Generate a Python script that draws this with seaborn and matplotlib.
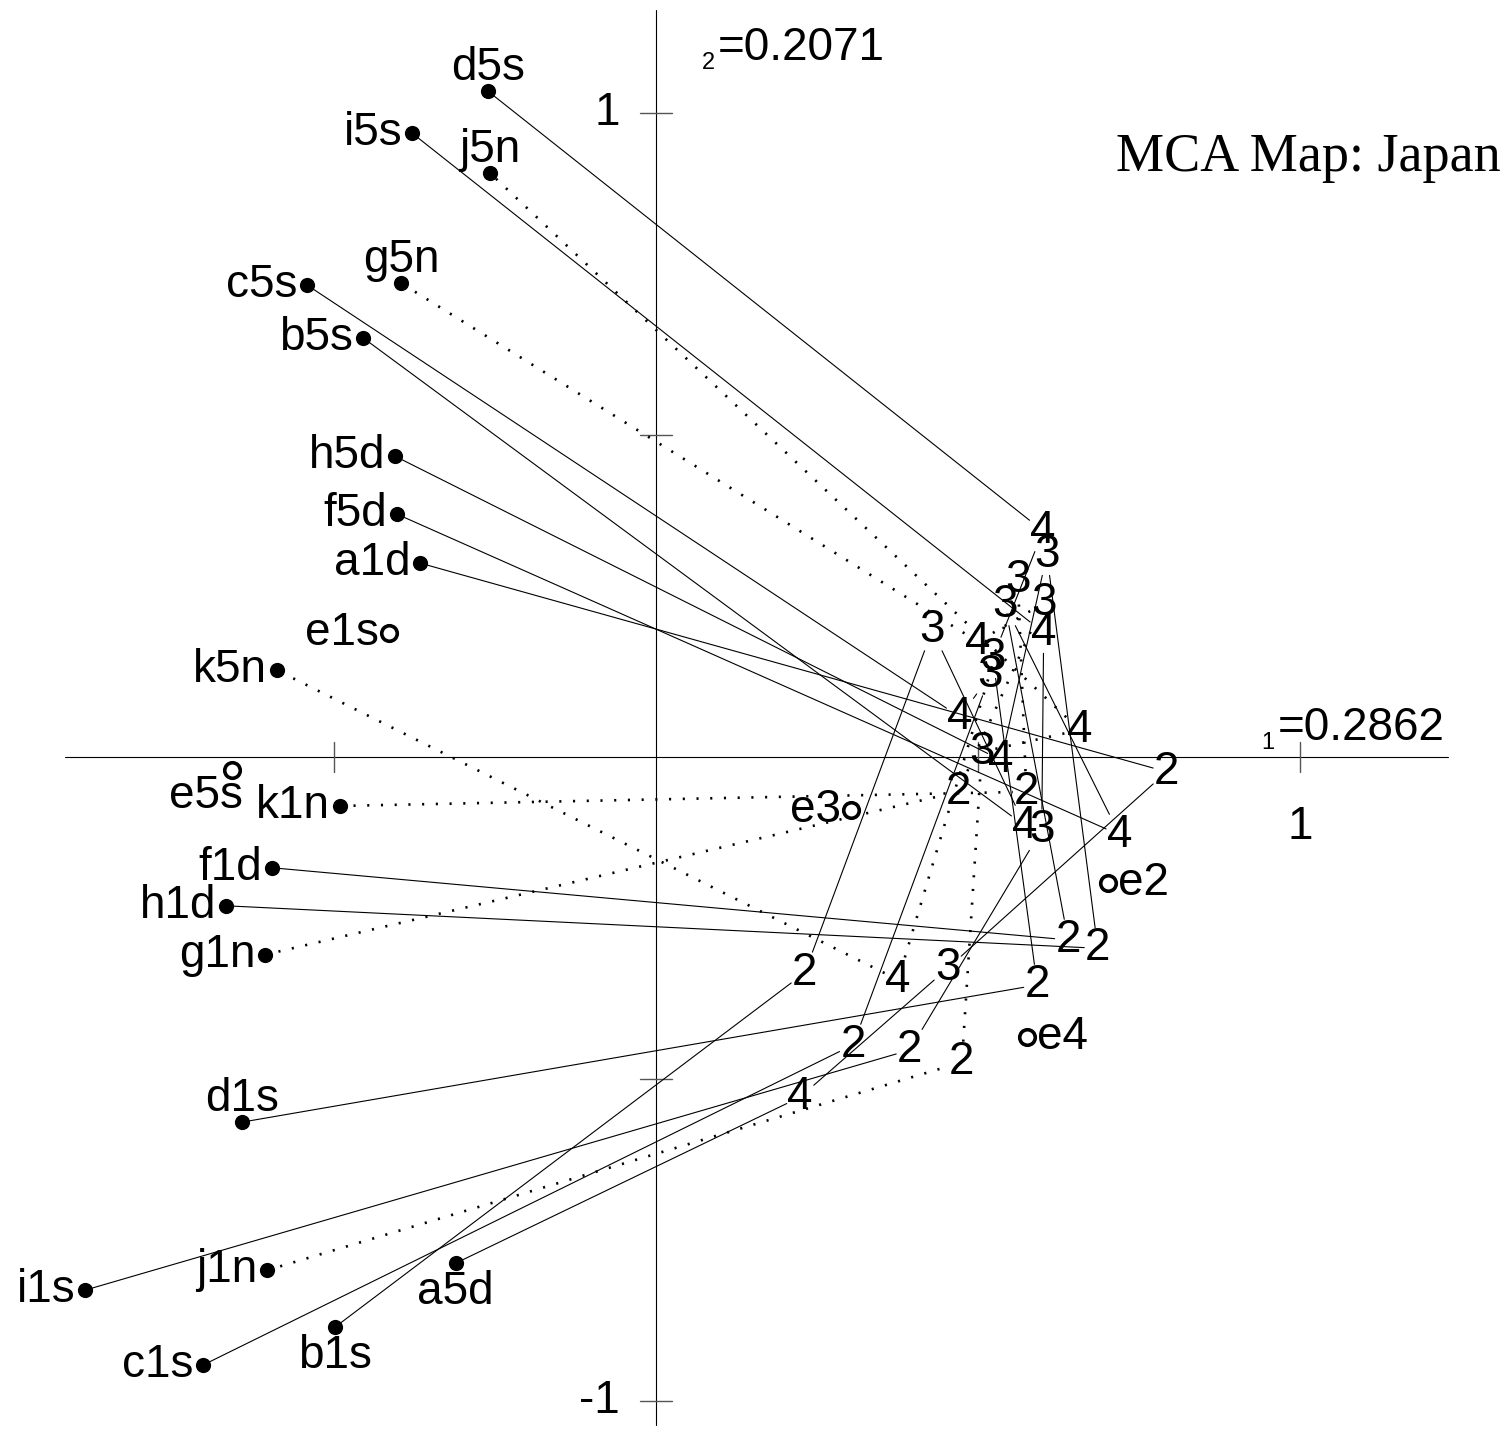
import matplotlib
matplotlib.use("Agg")
import matplotlib.pyplot as plt
import numpy as np
import pandas as pd
import seaborn as sns

# Principal coordinates (axis 1, axis 2) of response categories 1..5 per question
a_x = [-0.366, 0.793, 0.453, 0.224, -0.311]
a_y = [0.301, -0.023, -0.328, -0.528, -0.786]
b_x = [-0.498, 0.231, 0.429, 0.573, -0.455]
b_y = [-0.885, -0.335, 0.197, -0.107, 0.651]
c_x = [-0.703, 0.306, 0.519, 0.472, -0.542]
c_y = [-0.944, -0.447, 0.127, 0.062, 0.733]
d_x = [-0.643, 0.592, 0.523, 0.601, -0.261]
d_y = [-0.567, -0.354, 0.154, 0.351, 1.034]
f_x = [-0.596, 0.640, 0.542, 0.720, -0.402]
f_y = [-0.172, -0.284, 0.236, -0.121, 0.377]
g_x = [-0.607, 0.469, 0.602, 0.500, -0.396]
g_y = [-0.307, -0.054, 0.239, 0.179, 0.736]
h_x = [-0.668, 0.686, 0.607, 0.536, -0.405]
h_y = [-0.231, -0.297, 0.314, -0.005, 0.467]
i_x = [-0.887, 0.394, 0.599, 0.602, -0.379]
i_y = [-0.828, -0.455, -0.113, 0.193, 0.969]
j_x = [-0.604, 0.475, 0.506, 0.658, -0.258]
j_y = [-0.797, -0.474, 0.008, 0.042, 0.907]
k_x = [-0.491, 0.575, 0.562, 0.376, -0.589]
k_y = [-0.076, -0.054, 0.275, -0.346, 0.135]

# Supplementary question e (points only)
e_x = [-0.415, 0.702, 0.303, 0.576, -0.658]
e_y = [0.193, -0.196, -0.082, -0.435, -0.020]
e_labels = ["e1s", "e2", "e3", "e4", "e5s"]

questions = ["a", "b", "c", "d", "f", "g", "h", "i", "j", "k"]
suffixes = ["d", "s", "s", "s", "d", "n", "d", "s", "n", "n"]
categories = [1, 2, 3, 4, 5]

eigen_1 = "0.2862"
eigen_2 = "0.2071"
title = "MCA Map: Japan"

coords = {
    "a": (a_x, a_y), "b": (b_x, b_y), "c": (c_x, c_y), "d": (d_x, d_y),
    "f": (f_x, f_y), "g": (g_x, g_y), "h": (h_x, h_y), "i": (i_x, i_y),
    "j": (j_x, j_y), "k": (k_x, k_y),
}

# where each end label sits relative to its point
label_side = {
    "a1d": "left", "a5d": "below", "b1s": "below", "b5s": "left",
    "c1s": "left", "c5s": "left", "d1s": "above", "d5s": "above",
    "f1d": "left", "f5d": "left", "g1n": "left", "g5n": "above",
    "h1d": "left", "h5d": "left", "i1s": "left", "i5s": "left",
    "j1n": "left", "j5n": "above", "k1n": "left", "k5n": "left",
    "e1s": "left", "e2": "right", "e3": "left", "e4": "right", "e5s": "belowleft",
}
side_style = {
    "left": dict(xytext=(-7, 0), ha="right", va="center"),
    "right": dict(xytext=(7, 0), ha="left", va="center"),
    "above": dict(xytext=(0, 8), ha="center", va="baseline"),
    "below": dict(xytext=(0, -5), ha="center", va="top"),
    "belowleft": dict(xytext=(8, -3), ha="right", va="top"),
}

X_LIM = (-1.0186, 1.3230)
Y_LIM = (-1.0559, 1.1755)
FS = 33

sns.set_theme(style="white")
plt.rcParams["font.family"] = ["Liberation Sans", "DejaVu Sans"]
plt.rcParams["text.color"] = "black"

fig = plt.figure(figsize=(15.08, 14.37), dpi=100)
ax = fig.add_axes([0, 0, 1, 1])
ax.set_xlim(*X_LIM)
ax.set_ylim(*Y_LIM)
ax.axis("off")

# principal axes and ticks
ax.plot([-0.918, 1.230], [0, 0], color="black", lw=0.8, zorder=1)
ax.plot([0, 0], [-1.037, 1.160], color="black", lw=0.8, zorder=1)
for t in [-0.5, 0.5, 1.0]:
    ax.plot([t, t], [-0.024, 0.024], color="#555555", lw=1.0, zorder=1)
for t in [-1.0, -0.5, 0.5, 1.0]:
    ax.plot([-0.025, 0.025], [t, t], color="#555555", lw=1.0, zorder=1)
ax.text(-0.056, 1.0, "1", ha="right", va="center", fontsize=FS)
ax.text(-0.056, -1.0, "-1", ha="right", va="center", fontsize=FS)
ax.text(1.0, -0.109, "1", ha="center", va="center", fontsize=FS)

# eigenvalue annotations
ax.text(0.072, 1.069, "2", ha="left", va="baseline", fontsize=17)
ax.text(0.096, 1.082, "=" + eigen_2, ha="left", va="baseline", fontsize=FS)
ax.text(0.940, 0.013, "1", ha="left", va="baseline", fontsize=17)
ax.text(0.966, 0.026, "=" + eigen_1, ha="left", va="baseline", fontsize=FS)
ax.text(1.311, 0.930, title, ha="right", va="center", fontsize=39,
        family=["Liberation Serif", "DejaVu Serif"])

# half-size of a digit label box, in data units
HW, HH = 0.021, 0.032


def clip(p, q):
    """Move p toward q until it leaves the label box centred on p."""
    dx, dy = q[0] - p[0], q[1] - p[1]
    tx = HW / abs(dx) if dx else np.inf
    ty = HH / abs(dy) if dy else np.inf
    t = min(tx, ty)
    return (p[0] + t * dx, p[1] + t * dy)


rows = []
seg = 0
for q, suf in zip(questions, suffixes):
    xs, ys = coords[q]
    pts = list(zip(xs, ys))
    kind = "dotted" if suf == "n" else "solid"
    for n in range(4):
        p0, p1 = pts[n], pts[n + 1]
        s0 = clip(p0, p1) if n >= 1 else p0
        s1 = clip(p1, p0) if n + 1 <= 3 else p1
        rows.append(dict(seg=seg, x=s0[0], y=s0[1], kind=kind))
        rows.append(dict(seg=seg, x=s1[0], y=s1[1], kind=kind))
        seg += 1
seg_df = pd.DataFrame(rows)

sns.lineplot(data=seg_df[seg_df.kind == "solid"], x="x", y="y", units="seg",
             estimator=None, sort=False, color="black", lw=0.8, ax=ax,
             legend=False, zorder=2)
sns.lineplot(data=seg_df[seg_df.kind == "dotted"], x="x", y="y", units="seg",
             estimator=None, sort=False, color="black", lw=1.9,
             linestyle=(0, (0.8, 4.4)), ax=ax, legend=False, zorder=2)

# end-point markers
end_rows = []
for q, suf in zip(questions, suffixes):
    xs, ys = coords[q]
    for n in (0, 4):
        end_rows.append(dict(x=xs[n], y=ys[n], label=f"{q}{categories[n]}{suf}"))
end_df = pd.DataFrame(end_rows)
sns.scatterplot(data=end_df, x="x", y="y", color="black", s=120,
                linewidth=0, ax=ax, zorder=3, legend=False)

e_df = pd.DataFrame(dict(x=e_x, y=e_y, label=e_labels))
sns.scatterplot(data=e_df, x="x", y="y", facecolor="white", edgecolor="black",
                s=125, linewidth=2.6, ax=ax, zorder=3, legend=False)

for df in (end_df, e_df):
    for _, r in df.iterrows():
        st = side_style[label_side[r["label"]]]
        ax.annotate(r["label"], xy=(r["x"], r["y"]), textcoords="offset points",
                    fontsize=FS, color="black", zorder=4, **st)

# middle-category labels placed on the points themselves
for q in questions:
    xs, ys = coords[q]
    for n in (1, 2, 3):
        ax.text(xs[n], ys[n], str(categories[n]), ha="center", va="center",
                fontsize=FS, color="black", zorder=4)

fig.savefig("out.png", dpi=100, facecolor="white")
